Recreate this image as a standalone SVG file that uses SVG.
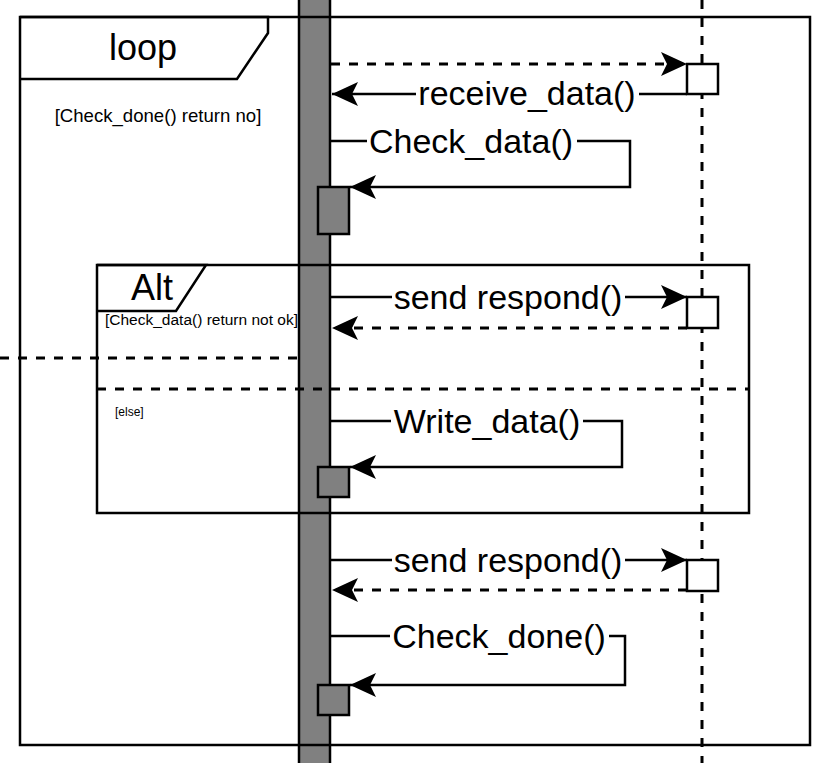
<svg xmlns="http://www.w3.org/2000/svg" width="828" height="763" viewBox="0 0 828 763">
  <style>
    .frame{fill:none;stroke:#000;stroke-width:2.5}
    .line{fill:none;stroke:#000;stroke-width:2.5}
    .dash{fill:none;stroke:#000;stroke-width:3;stroke-dasharray:9 9}
    .act{fill:#808080;stroke:#000;stroke-width:2.5}
    .box{fill:#fff;stroke:#000;stroke-width:2.5}
    .lbl{font-family:"Liberation Sans",Arial,sans-serif;font-size:34px;fill:#000;text-anchor:middle}
    .bg{fill:#fff}
    .big{font-family:"Liberation Sans",Arial,sans-serif;font-size:36px;fill:#000;text-anchor:middle}
    .guard{font-family:"Liberation Sans",Arial,sans-serif;fill:#000}
  </style>
  <defs>
    <marker id="arr" markerUnits="userSpaceOnUse" markerWidth="26" markerHeight="24" refX="26" refY="12" orient="auto" viewBox="0 0 26 24">
      <path d="M26,12 L0,0 L6,12 L0,24 Z" fill="#000" stroke="none"/>
    </marker>
  </defs>
  <rect width="828" height="763" fill="#fff"/>

  <g id="lifeline-right">
    <line class="dash" x1="702" y1="0" x2="702" y2="763"/>
  </g>
  <g id="lifeline-left">
    <rect class="act" x="299" y="-3" width="31" height="770"/>
  </g>

  <g id="loop-frame">
    <rect class="frame" x="20" y="17" width="790" height="728"/>
    <path class="frame" d="M20,17 H268 V33 L237,79 H20" fill="#fff"/>
    <text class="big" x="143" y="60">loop</text>
    <text class="guard" x="158" y="121.5" font-size="18.6" text-anchor="middle">[Check_done() return no]</text>
  </g>

  <g id="alt-frame">
    <rect class="frame" x="97" y="265" width="652" height="248"/>
    <path class="frame" d="M97,265 H206 L176,311 H97"/>
    <text class="big" x="152" y="300">Alt</text>
    <text class="guard" x="105" y="325" font-size="15.5">[Check_data() return not ok]</text>
    <line class="dash" x1="97" y1="389" x2="749" y2="389"/>
    <text class="guard" x="115" y="416" font-size="12">[else]</text>
  </g>
  <g id="left-dash">
    <line class="dash" x1="0" y1="358" x2="298" y2="358"/>
  </g>

  <g id="connectors">
    <line class="dash" x1="331" y1="64" x2="687" y2="64" marker-end="url(#arr)"/>
    <line class="line" x1="687" y1="94" x2="332" y2="94" marker-end="url(#arr)"/>
    <path class="line" d="M330,141 H630 V187 H350" marker-end="url(#arr)"/>
    <line class="line" x1="331" y1="297" x2="687" y2="297" marker-end="url(#arr)"/>
    <line class="dash" x1="687" y1="328" x2="332" y2="328" marker-end="url(#arr)"/>
    <path class="line" d="M330,421 H622 V467 H350" marker-end="url(#arr)"/>
    <line class="line" x1="331" y1="560" x2="687" y2="560" marker-end="url(#arr)"/>
    <line class="dash" x1="687" y1="590" x2="332" y2="590" marker-end="url(#arr)"/>
    <path class="line" d="M330,636 H625 V685 H350" marker-end="url(#arr)"/>
  </g>

  <g id="activations">
    <rect class="act" x="318" y="187" width="31" height="47"/>
    <rect class="act" x="318" y="467" width="31" height="30"/>
    <rect class="act" x="318" y="685" width="31" height="30"/>
  </g>
  <g id="boxes">
    <rect class="box" x="687" y="64" width="31" height="30"/>
    <rect class="box" x="687" y="297" width="31" height="31"/>
    <rect class="box" x="687" y="560" width="31" height="31"/>
  </g>

  <g id="labels">
    <rect class="bg" x="416" y="80" width="223" height="30"/>
    <text class="lbl" x="527" y="105">receive_data()</text>
    <rect class="bg" x="367" y="126" width="210" height="32"/>
    <text class="lbl" x="471" y="153">Check_data()</text>
    <rect class="bg" x="392" y="282" width="233" height="30"/>
    <text class="lbl" x="508" y="309">send respond()</text>
    <rect class="bg" x="391" y="406" width="192" height="32"/>
    <text class="lbl" x="487" y="433">Write_data()</text>
    <rect class="bg" x="392" y="545" width="233" height="30"/>
    <text class="lbl" x="508" y="572">send respond()</text>
    <rect class="bg" x="390" y="621" width="219" height="32"/>
    <text class="lbl" x="499" y="648">Check_done()</text>
  </g>
</svg>
